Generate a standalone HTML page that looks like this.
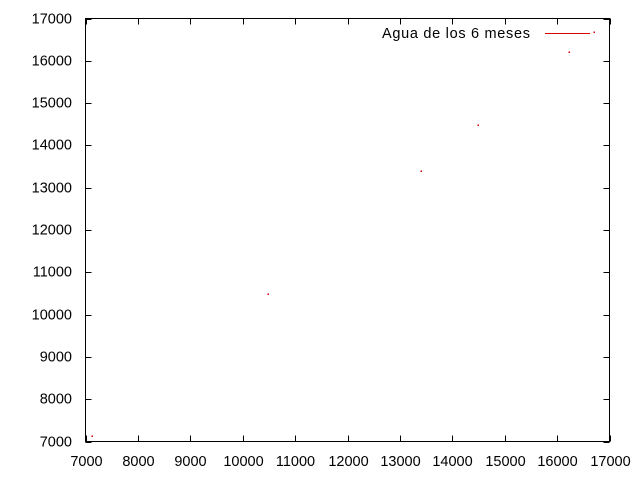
<!DOCTYPE html>
<html><head><meta charset="utf-8"><style>body{margin:0;background:#fff}svg{display:block}text{font-family:"Liberation Sans",sans-serif;font-size:14.5px;fill:#000}</style></head>
<body>
<svg id="chart" width="640" height="480" xmlns="http://www.w3.org/2000/svg"></svg>
<script>
const xTicks=[7000,8000,9000,10000,11000,12000,13000,14000,15000,16000,17000];
const yTicks=[7000,8000,9000,10000,11000,12000,13000,14000,15000,16000,17000];
const xVals=[7115,10480,13405,14495,16235,16700];
const yVals=[7140,10483,13398,14488,16218,16670];
const L=85.5,R=609.5,T=18.5,B=441.5;
const sx=v=>L+(v-7000)/10000*(R-L);
const sy=v=>B-(v-7000)/10000*(B-T);
const svg=document.getElementById('chart');
const NS='http://www.w3.org/2000/svg';
function mk(t,a){const e=document.createElementNS(NS,t);for(const k in a)e.setAttribute(k,a[k]);svg.appendChild(e);return e;}
const frame=mk('rect',{x:L,y:T,width:R-L,height:B-T,fill:'none',stroke:'#000','stroke-width':1});


xTicks.forEach(v=>{const x=Math.round(sx(v))+0.5;
 const t1=mk('line',{x1:x,y1:B,x2:x,y2:B-6,stroke:'#000'});
 
 
 const t2=mk('line',{x1:x,y1:T,x2:x,y2:T+6,stroke:'#000'});
 
 
 const lb=mk('text',{x:x,y:466,'text-anchor':'middle'});lb.textContent=v;
 
 
});
yTicks.forEach(v=>{const y=Math.round(sy(v))+0.5;
 const t1=mk('line',{x1:L,y1:y,x2:L+6,y2:y,stroke:'#000'});
 
 
 const t2=mk('line',{x1:R,y1:y,x2:R-6,y2:y,stroke:'#000'});
 
 
 const lb=mk('text',{x:72,y:y+4,'text-anchor':'end'});lb.textContent=v;
 
 
});
xVals.forEach((v,i)=>{const p=mk('rect',{x:Math.round(sx(v))-0.5,y:Math.round(sy(yVals[i]))-0.5,width:1.5,height:1.5,fill:'#e00000'});
 
 
});
const lt=mk('text',{x:382,y:38,'letter-spacing':'0.7'});lt.textContent='Agua de los 6 meses';


const ll=mk('line',{x1:545,y1:33.5,x2:590,y2:33.5,stroke:'#e00000'});


</script>
</body></html>
